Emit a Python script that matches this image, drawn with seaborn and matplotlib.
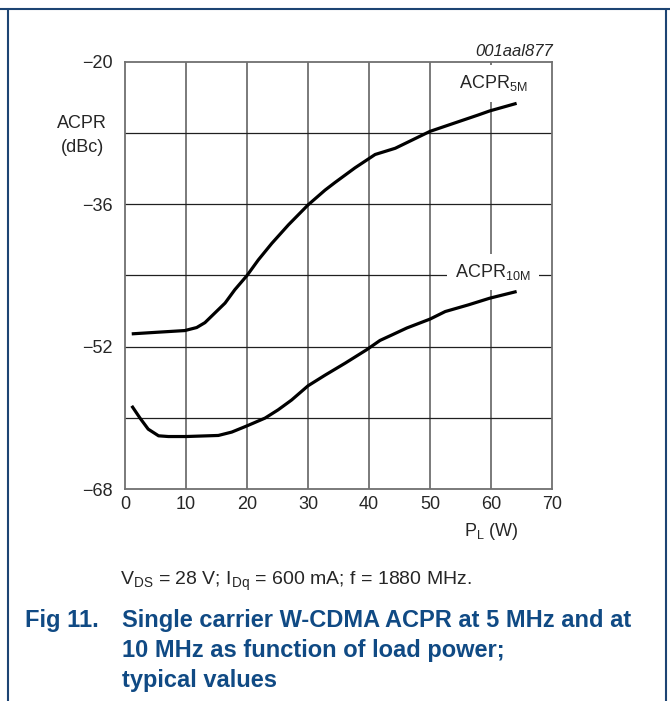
import matplotlib
matplotlib.use("Agg")
import matplotlib.pyplot as plt
import seaborn as sns
import pandas as pd

# ACPR curves (P_L in W, ACPR in dBc)
p5 = [1.1, 5.5, 9.8, 11.75, 13.1, 14.75, 16.4, 18.0, 20.0, 21.85, 24.05, 26.8, 30.0, 32.8,
      34.4, 37.7, 41.0, 44.3, 47.0, 50.0, 53.0, 57.9, 59.8, 64.2]
acpr5 = [-50.56, -50.37, -50.19, -49.85, -49.3, -48.2, -47.1, -45.6, -44.0, -42.25, -40.4, -38.3,
         -36.07, -34.4, -33.56, -31.9, -30.4, -29.7, -28.8, -27.8, -27.1, -25.96, -25.5, -24.65]
p10 = [1.1, 2.46, 3.8, 5.5, 7.1, 10.0, 15.3, 17.5, 20.0, 22.95, 25.1, 27.3, 30.0, 32.8, 36.1,
       39.6, 41.8, 43.7, 46.2, 50.0, 52.5, 56.3, 59.8, 64.2]
acpr10 = [-58.65, -60.03, -61.27, -62.02, -62.1, -62.1, -61.98, -61.6, -60.9, -60.03, -59.1,
          -58.0, -56.4, -55.2, -53.85, -52.35, -51.3, -50.7, -49.9, -48.9, -48.05, -47.3, -46.55, -45.8]

xticks = [0, 10, 20, 30, 40, 50, 60, 70]
ylabels_at = [-68, -52, -36, -20]
ygrid_minor = [-60, -44, -28]

sns.set_style("white")
plt.rcParams['font.family'] = ['Liberation Sans', 'DejaVu Sans']
plt.rcParams['mathtext.fontset'] = 'custom'
plt.rcParams['mathtext.rm'] = 'Liberation Sans'
plt.rcParams['mathtext.it'] = 'Liberation Sans:italic'
plt.rcParams['mathtext.bf'] = 'Liberation Sans:bold'

df = pd.concat([
    pd.DataFrame({'P': p5, 'ACPR': acpr5, 'curve': '5M'}),
    pd.DataFrame({'P': p10, 'ACPR': acpr10, 'curve': '10M'}),
])

fig = plt.figure(figsize=(6.7, 7.01), dpi=100)
ax = fig.add_axes([0.1866, 0.3024, 0.6373, 0.6092])

sns.lineplot(data=df, x='P', y='ACPR', units='curve', estimator=None,
             color='black', lw=2.3, sort=False, ax=ax, zorder=5,
             solid_joinstyle='round', solid_capstyle='butt')

ax.set_xlim(0, 70)
ax.set_ylim(-68, -20)
ax.set_xticks(xticks)
ax.set_yticks(ylabels_at)
ax.set_yticks(ygrid_minor, minor=True)
ax.set_yticklabels([f"\u2212{abs(v)}" for v in ylabels_at])
ax.tick_params(axis='both', which='both', length=0, labelsize=13, pad=9)
ax.tick_params(axis='x', pad=5)
ax.set_xlabel('')
ax.set_ylabel('')

ax.grid(False)
for xv in xticks[1:-1]:
    ax.axvline(xv, color='#707070', lw=1.3, zorder=1)
for yv in ygrid_minor + ylabels_at[1:-1]:
    ax.axhline(yv, color='#202020', lw=0.9, zorder=1)
for s in ax.spines.values():
    s.set_color('#707070')
    s.set_linewidth(1.3)

box = dict(facecolor='white', edgecolor='none', pad=6)
ax.text(60.3, -22.4, r'$\mathregular{ACPR_{5M}}$', fontsize=13, ha='center', va='center', bbox=box, zorder=4)
ax.text(60.3, -43.6, r'$\mathregular{ACPR_{10M}}$', fontsize=13, ha='center', va='center', bbox=box, zorder=4)

fig.text(553 / 670, 1 - 52 / 701, '001aal877', fontsize=12, style='italic', ha='right', va='center')
fig.text(82 / 670, 1 - 124 / 701, 'ACPR', fontsize=13, ha='center', va='center')
fig.text(82 / 670, 1 - 147 / 701, '(dBc)', fontsize=13, ha='center', va='center')
fig.text(491 / 670, 1 - 532 / 701, r'$\mathregular{P_L}$ (W)', fontsize=13, ha='center', va='center')
fig.text(120 / 670, 1 - 581 / 701,
         r'$\mathregular{V_{DS}}$ = 28 V; $\mathregular{I_{Dq}}$ = 600 mA; f = 1880 MHz.',
         fontsize=14, ha='left', va='center')

cap = '#104a84'
fig.text(25 / 670, 1 - 620 / 701, 'Fig 11.', fontsize=17, weight='bold', color=cap, ha='left', va='center')
for i, line in enumerate(['Single carrier W-CDMA ACPR at 5 MHz and at',
                          '10 MHz as function of load power;',
                          'typical values']):
    fig.text(122 / 670, 1 - (620 + 30.5 * i) / 701, line, fontsize=17, weight='bold',
             color=cap, ha='left', va='center')

# page frame
border = '#1d4473'
fig.add_artist(plt.Line2D([0, 1], [1 - 9 / 701] * 2, color=border, lw=1.5, transform=fig.transFigure))
fig.add_artist(plt.Line2D([8 / 670] * 2, [0, 1 - 9 / 701], color=border, lw=1.5, transform=fig.transFigure))
fig.add_artist(plt.Line2D([666 / 670] * 2, [0, 1 - 9 / 701], color=border, lw=1.5, transform=fig.transFigure))

fig.savefig('out.png', dpi=100)
